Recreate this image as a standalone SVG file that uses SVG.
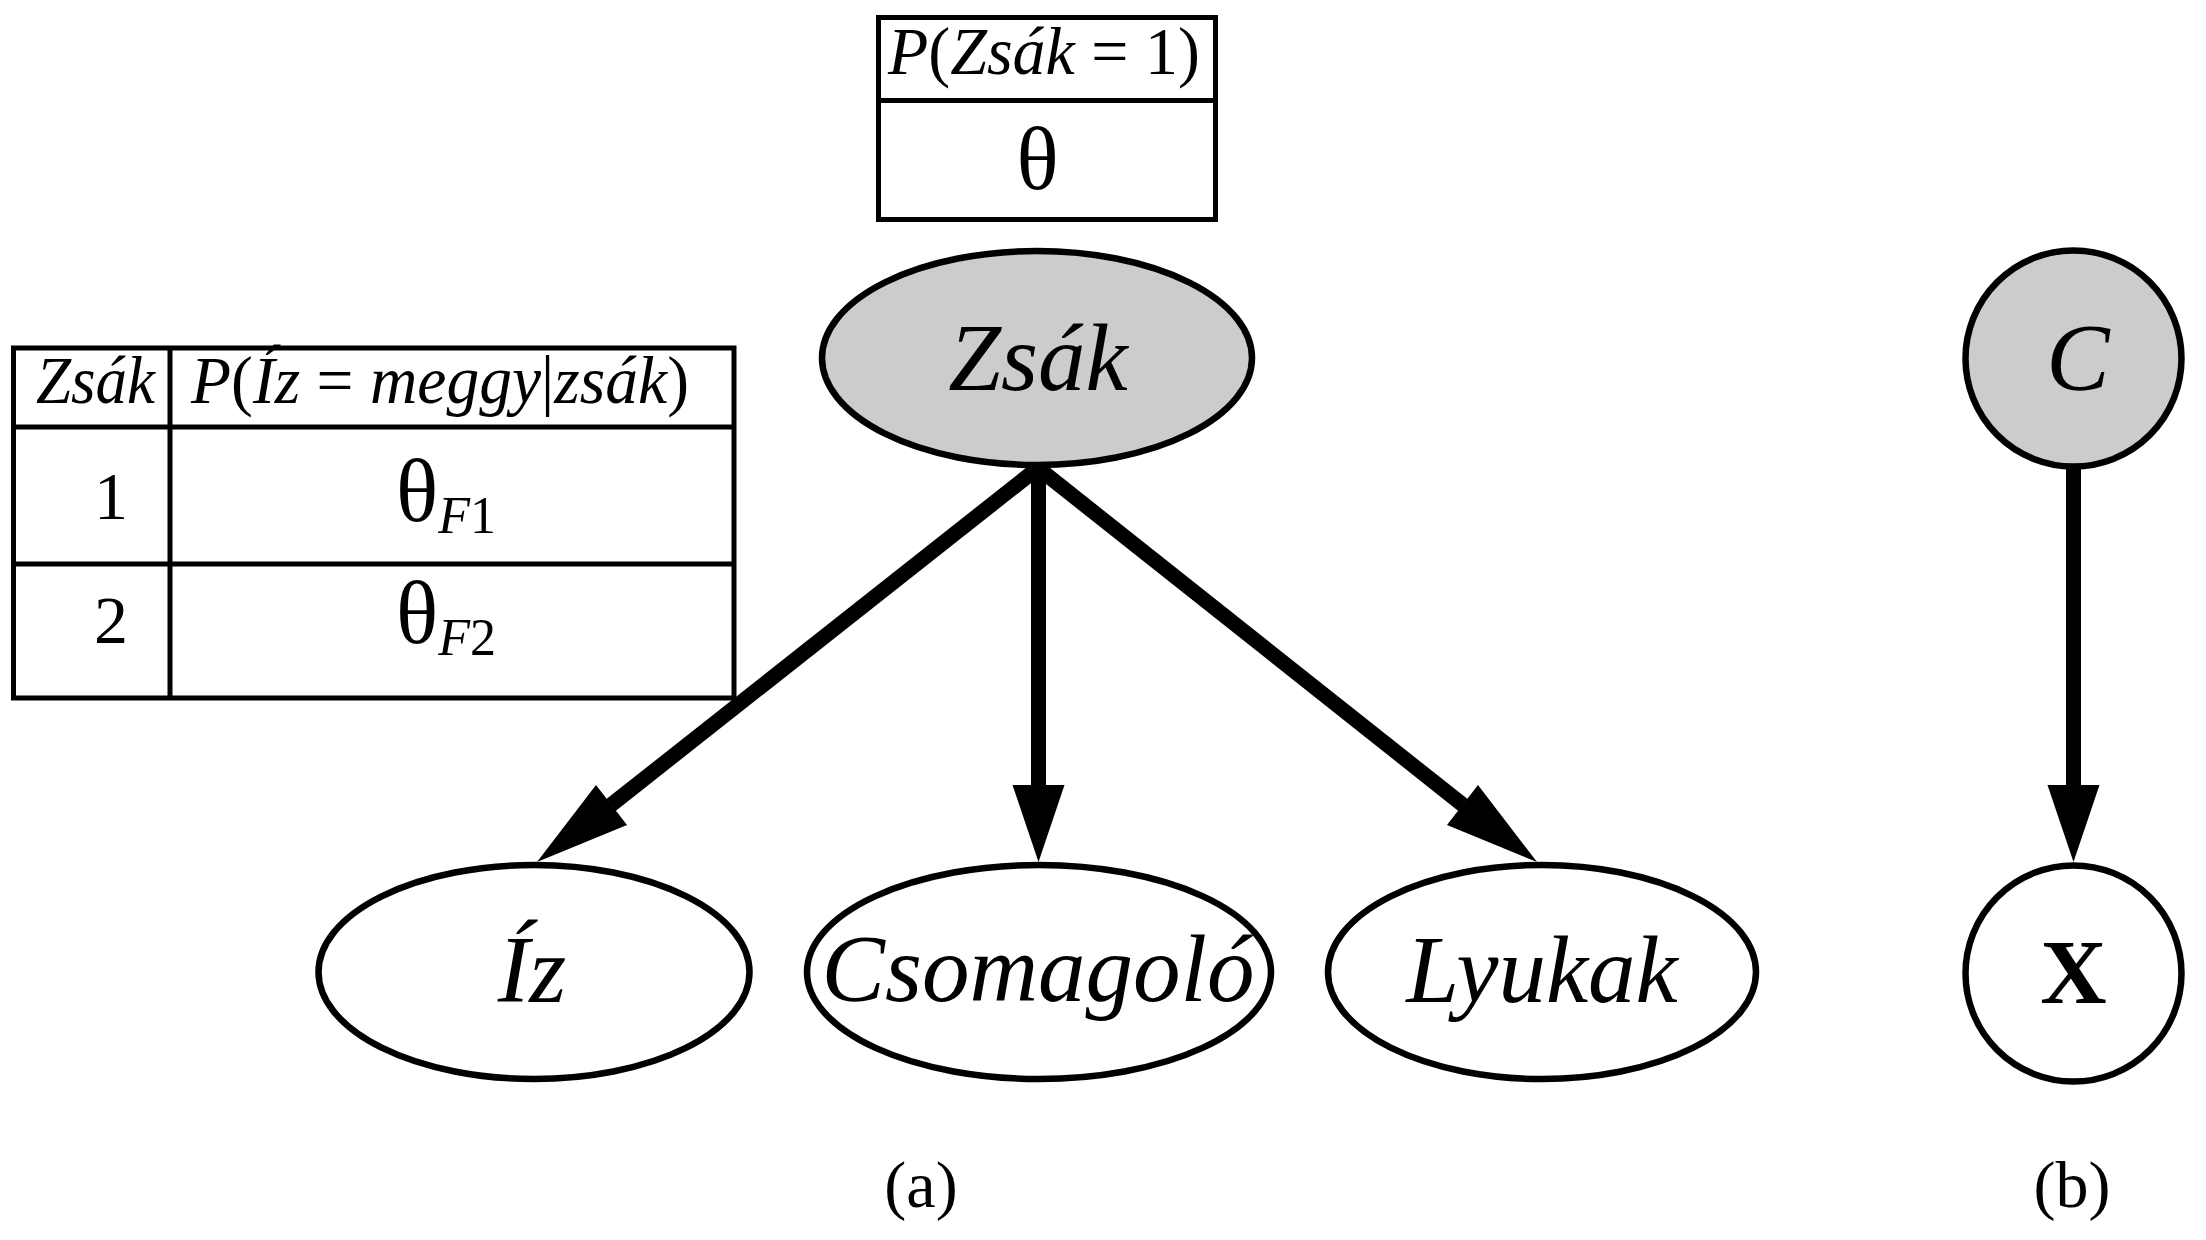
<svg xmlns="http://www.w3.org/2000/svg" width="2206" height="1240" viewBox="0 0 2206 1240">
<style>
  text { font-family: "Liberation Serif", "Times New Roman", serif; fill: #000; }
  .it { font-style: italic; }
  .up { font-style: normal; }
  .node { stroke: #000; stroke-width: 6.5; }
  .obs { fill: #cccccc; }
  .hid { fill: #ffffff; }
  .lbl { font-size: 95px; font-style: italic; text-anchor: middle; }
  .shaft { stroke: #000; stroke-width: 15; fill: none; }
  .head { fill: #000; stroke: none; }
  .tbl { fill: #fff; stroke: #000; stroke-width: 5; }
  .rule { stroke: #000; stroke-width: 5; }
  .cell { font-size: 68px; }
  .theta { font-size: 88px; font-style: normal; }
  .sub { font-size: 52px; }
  .cap { font-size: 66px; text-anchor: middle; }
</style>
<rect x="0" y="0" width="2206" height="1240" fill="#fff"/>

<g id="connectors">
  <line class="shaft" x1="1038" y1="468" x2="611" y2="805"/>
  <polygon class="head" points="537,862 596,785 627,825"/>
  <line class="shaft" x1="1038.5" y1="468" x2="1038.5" y2="787"/>
  <polygon class="head" points="1038.5,862 1012.5,785 1064.5,785"/>
  <line class="shaft" x1="1038" y1="468" x2="1463" y2="805"/>
  <polygon class="head" points="1537,862 1478,785 1447,825"/>
  <line class="shaft" x1="2073.5" y1="466" x2="2073.5" y2="787"/>
  <polygon class="head" points="2073.5,862 2047.5,785 2099.5,785"/>
</g>

<g id="table-zsak">
  <rect class="tbl" x="878.5" y="17.5" width="337" height="202"/>
  <line class="rule" x1="878.5" y1="100.5" x2="1215.5" y2="100.5"/>
  <text class="cell" x="888" y="74" textLength="312" lengthAdjust="spacingAndGlyphs"><tspan class="it">P</tspan>(<tspan class="it">Zsák</tspan> = 1)</text>
  <text class="theta" x="1037.5" y="189" text-anchor="middle">θ</text>
</g>

<g id="table-iz">
  <rect class="tbl" x="13.5" y="348" width="720.5" height="350"/>
  <line class="rule" x1="170" y1="348" x2="170" y2="698"/>
  <line class="rule" x1="13.5" y1="427" x2="734" y2="427"/>
  <line class="rule" x1="13.5" y1="564" x2="734" y2="564"/>
  <text class="cell it" x="36" y="403" textLength="119" lengthAdjust="spacingAndGlyphs">Zsák</text>
  <text class="cell" x="191" y="403" textLength="498" lengthAdjust="spacingAndGlyphs"><tspan class="it">P</tspan>(<tspan class="it">Íz</tspan> = <tspan class="it">meggy</tspan>|<tspan class="it">zsák</tspan>)</text>
  <text class="cell" x="111" y="519" text-anchor="middle">1</text>
  <text x="396" y="521"><tspan class="theta">θ</tspan><tspan class="sub it" dy="12">F</tspan><tspan class="sub up">1</tspan></text>
  <text class="cell" x="111" y="643" text-anchor="middle">2</text>
  <text x="396" y="643"><tspan class="theta">θ</tspan><tspan class="sub it" dy="12">F</tspan><tspan class="sub up">2</tspan></text>
</g>

<g id="node-zsak">
  <ellipse class="node obs" cx="1037" cy="358" rx="215" ry="107"/>
  <text class="lbl" x="1038" y="390">Zsák</text>
</g>

<g id="node-iz">
  <ellipse class="node hid" cx="534" cy="972" rx="215.5" ry="107"/>
  <text class="lbl" x="532" y="1002">Íz</text>
</g>

<g id="node-csomagolo">
  <ellipse class="node hid" cx="1039" cy="972" rx="232" ry="107"/>
  <text class="lbl" x="1038" y="1001">Csomagoló</text>
</g>

<g id="node-lyukak">
  <ellipse class="node hid" cx="1542" cy="972" rx="214" ry="107"/>
  <text class="lbl" x="1542" y="1002">Lyukak</text>
</g>

<g id="node-c">
  <circle class="node obs" cx="2073.5" cy="358.5" r="108"/>
  <text class="lbl" x="2078" y="390">C</text>
</g>

<g id="node-x">
  <circle class="node hid" cx="2073.5" cy="973.5" r="108"/>
  <text x="2073.5" y="1003" font-size="92" font-weight="bold" text-anchor="middle">X</text>
</g>

<g id="captions">
  <text class="cap" x="921" y="1207">(a)</text>
  <text class="cap" x="2072" y="1207">(b)</text>
</g>
</svg>
